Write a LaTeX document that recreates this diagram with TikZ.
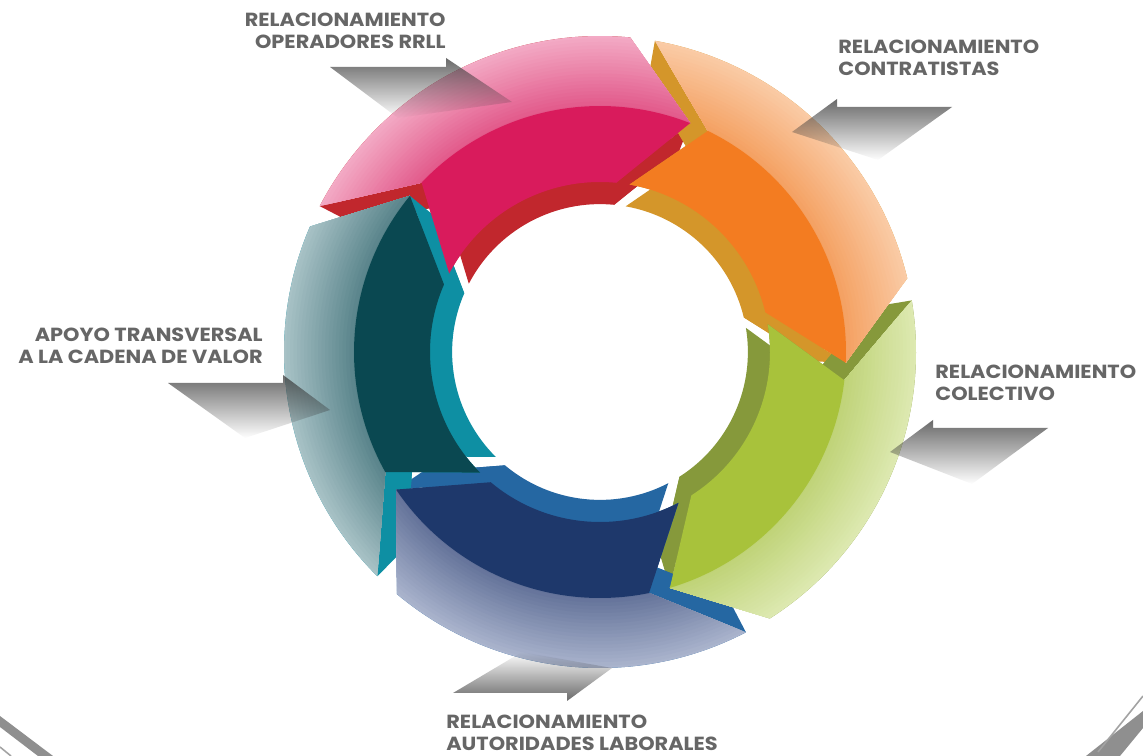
\documentclass[tikz,border=0pt]{standalone}
\usepackage{fontspec}
\setmainfont{Poppins}[FakeStretch=1.1]
\usetikzlibrary{fadings}
% ring colours: out/in = outer band, face = top face, wall = side wall
\definecolor{roseout}{HTML}{F3AAC5}
\definecolor{rosein}{HTML}{E2598A}
\definecolor{roseface}{HTML}{D91B5C}
\definecolor{rosewall}{HTML}{C1272D}
\definecolor{amberout}{HTML}{FACBA6}
\definecolor{amberin}{HTML}{F4A061}
\definecolor{amberface}{HTML}{F37C21}
\definecolor{amberwall}{HTML}{D4962A}
\definecolor{limeout}{HTML}{DDE9B1}
\definecolor{limein}{HTML}{BFD377}
\definecolor{limeface}{HTML}{A8C23B}
\definecolor{limewall}{HTML}{86993B}
\definecolor{navyout}{HTML}{AAB4CD}
\definecolor{navyin}{HTML}{637299}
\definecolor{navyface}{HTML}{1E386B}
\definecolor{navywall}{HTML}{2567A2}
\definecolor{tealout}{HTML}{A8C2C6}
\definecolor{tealin}{HTML}{58838A}
\definecolor{tealface}{HTML}{0A4851}
\definecolor{tealwall}{HTML}{0E8FA3}
\definecolor{gray600}{HTML}{666666}
\definecolor{gray500}{HTML}{8F8F8F}
\definecolor{gray400}{HTML}{A3A3A3}
\colorlet{bandin}{white}
\colorlet{bandout}{white}
\tikzfading[name=fadedown, top color=transparent!25, middle color=transparent!80, bottom color=transparent!100]
\tikzfading[name=fadeup, top color=transparent!100, middle color=transparent!80, bottom color=transparent!25]

\begin{document}
\begin{tikzpicture}[x=0.02cm, y=-0.02cm]
  % Styles
  \tikzset{
    lbl/.style={text=gray600, font=\fontsize{10.8}{12.6}\selectfont\bfseries, inner sep=0pt},
    cardshade/.style={fill=black!78},
    trim/.style={fill=gray500},
  }
  \useasboundingbox (0,0) rectangle (1143,756);
  \clip (0,0) rectangle (1143,756);
  \fill[white] (0,0) rectangle (1143,756);

  % Corner trims
  \fill[trim] (0,716) -- (53,756) -- (38,756) -- (0,727) -- cycle;
  \draw[gray400, line width=0.9pt] (0,747) -- (11,756);
  \fill[trim] (1143,711) -- (1086,756) -- (1120,756) -- (1143,728) -- cycle;
  \draw[gray400, line width=0.9pt] (1143,696) -- (1098,752);

  % Ring (polar angles counted as usual, y up)
  \begin{scope}[shift={(600,352)}, y=0.02cm]
    % Side walls
    \foreach \tail/\head/\tone in {152.5/84.5/rose, 80/13.5/amber, 9.4/-57.5/lime, -62.5/-130/navy, -134.8/-203.4/teal}{
      \fill[\tone wall] (\head:170) -- ({\head-16}:246) -- (\head:316) arc[start angle=\head, end angle=\tail, radius=316]
        -- ({\tail-16}:246) -- (\tail:170) arc[start angle=\tail, end angle=\head, radius=170] -- cycle;
      \begin{scope}[scale=0.87]
        \fill[\tone wall] (\head:170) -- ({\head-16}:246) -- (\head:316) arc[start angle=\head, end angle=\tail, radius=316]
          -- ({\tail-16}:246) -- (\tail:170) arc[start angle=\tail, end angle=\head, radius=170] -- cycle;
      \end{scope}
      \fill[\tone wall] (\head:170) -- ({\head-16}:246) -- ({\head-16}:214) -- (\head:148) -- cycle;
      \fill[\tone wall] (\tail:316) -- ({\tail-16}:246) -- ({\tail-16}:214) -- (\tail:275) -- cycle;
    }
    % Outer bands (stepped radial gradient) and top faces
    \foreach \tail/\head/\tone in {152.5/84.5/rose, 80/13.5/amber, 9.4/-57.5/lime, -62.5/-130/navy, -134.8/-203.4/teal}{
      \begin{scope}
        \colorlet{bandin}{\tone in}\colorlet{bandout}{\tone out}
        \clip ({\head-16}:246) -- (\head:316) arc[start angle=\head, end angle=\tail, radius=316]
          -- ({\tail-16}:246) arc[start angle=\tail-16, end angle=\head-16, radius=246] -- cycle;
        \foreach \k in {0,...,20}{
          \pgfmathsetmacro\rr{317-3.5*\k}
          \pgfmathtruncatemacro\pc{100-5*\k}
          \fill[bandout!\pc!bandin] (0,0) circle[radius=\rr];
        }
      \end{scope}
      \fill[\tone face] ({\head-16}:246) arc[start angle=\head-16, end angle=\tail-16, radius=246]
        -- (\tail:170) arc[start angle=\tail, end angle=\head, radius=170] -- cycle;
    }
  \end{scope}

  % Label shadows
  \fill[cardshade, path fading=fadedown] (330,67) -- (446,67) -- (446,58) -- (512,102) -- (398,118) -- cycle;
  \fill[cardshade, path fading=fadedown] (952,107) -- (837,107) -- (837,99) -- (792,132) -- (878,160) -- cycle;
  \fill[cardshade, path fading=fadedown] (1048,428) -- (933,428) -- (933,420) -- (890,452) -- (972,484) -- cycle;
  \fill[cardshade, path fading=fadedown] (168,383) -- (283,383) -- (283,375) -- (330,410) -- (245,438) -- cycle;
  \fill[cardshade, path fading=fadeup] (453,693) -- (567,693) -- (567,701) -- (612,668) -- (522,652) -- cycle;

  % Labels
  \node[lbl, anchor=north east, align=right] (lopera) at (446,13) {RELACIONAMIENTO\\OPERADORES RRLL};
  \node[lbl, anchor=north west, align=left] (lcontra) at (838,40) {RELACIONAMIENTO\\CONTRATISTAS};
  \node[lbl, anchor=north west, align=left] (lcolect) at (935,365) {RELACIONAMIENTO\\COLECTIVO};
  \node[lbl, anchor=north east, align=right] (lapoyo) at (263,328) {APOYO TRANSVERSAL\\A LA CADENA DE VALOR};
  \node[lbl, anchor=north west, align=left] (lautor) at (446,715) {RELACIONAMIENTO\\AUTORIDADES LABORALES};
\end{tikzpicture}
\end{document}
